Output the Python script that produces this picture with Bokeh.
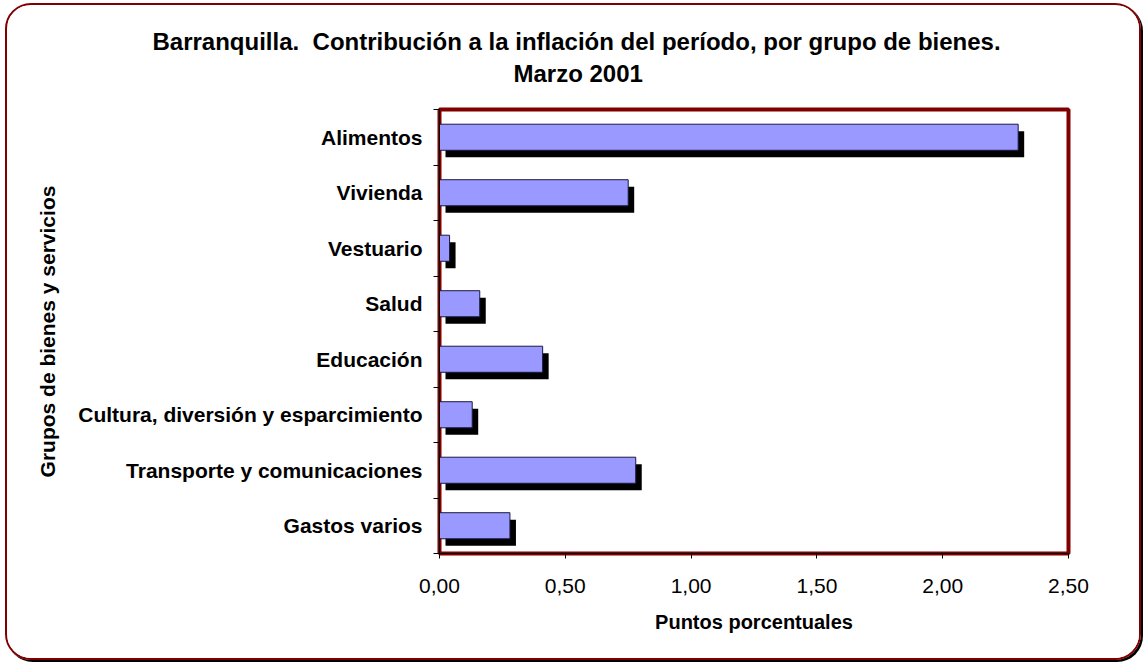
from bokeh.plotting import figure
from bokeh.models import Range1d, FixedTicker, Title
from bokeh.embed import file_html
from bokeh.resources import INLINE

categories = [
    "Alimentos",
    "Vivienda",
    "Vestuario",
    "Salud",
    "Educación",
    "Cultura, diversión y esparcimiento",
    "Transporte y comunicaciones",
    "Gastos varios",
]
values = [2.30, 0.75, 0.04, 0.16, 0.41, 0.13, 0.78, 0.28]
x_ticks = [0.0, 0.5, 1.0, 1.5, 2.0, 2.5]
x_tick_labels = ["0,00", "0,50", "1,00", "1,50", "2,00", "2,50"]

FONT = "Liberation Sans"
n = len(categories)
ypos = [n - i - 0.5 for i in range(n)]
boundaries = [float(b) for b in range(n + 1)]

p = figure(
    width=1136, height=657,
    x_range=Range1d(0, 2.5), y_range=Range1d(0, n),
    output_backend="svg", toolbar_location=None,
    min_border_left=432, min_border_right=75,
    min_border_top=104, min_border_bottom=109,
)
p.styles = {
    "margin": "3px 0px 0px 5px",
    "border": "2px solid #800000",
    "border-radius": "26px",
    "box-shadow": "2px 2px 0px #000000",
    "overflow": "hidden",
}
p.background_fill_color = "white"
p.border_fill_color = "white"
p.outline_line_color = "#800000"
p.outline_line_width = 4
p.xgrid.visible = False
p.ygrid.visible = False

bar_h = 0.47
dx = 6 / 251.6
dy = 7 / 55.6
p.hbar(y=[y - dy for y in ypos], left=dx, right=[v + dx for v in values],
       height=bar_h, fill_color="black", line_color=None)
p.hbar(y=ypos, left=0, right=values, height=bar_h,
       fill_color="#9999FF", line_color="#1a1a40", line_width=1)

xa = p.xaxis[0]
xa.ticker = FixedTicker(ticks=x_ticks, minor_ticks=[])
xa.major_label_overrides = dict(zip(x_ticks, x_tick_labels))
xa.major_tick_in = 0
xa.major_tick_out = 5
xa.minor_tick_out = 0
xa.axis_line_color = "black"
xa.major_label_text_font = FONT
xa.major_label_text_font_size = "21px"
xa.major_label_text_color = "black"
xa.major_label_standoff = 20
xa.axis_label = "Puntos porcentuales"
xa.axis_label_text_font = FONT
xa.axis_label_text_font_size = "20px"
xa.axis_label_text_font_style = "bold"
xa.axis_label_text_color = "black"
xa.axis_label_standoff = 15

ya = p.yaxis[0]
ya.ticker = FixedTicker(ticks=ypos, minor_ticks=boundaries)
ya.major_label_overrides = dict(zip(ypos, categories))
ya.major_tick_in = 0
ya.major_tick_out = 0
ya.minor_tick_in = 0
ya.minor_tick_out = 6
ya.minor_tick_line_color = "black"
ya.axis_line_color = "black"
ya.major_label_text_font = FONT
ya.major_label_text_font_size = "21px"
ya.major_label_text_font_style = "bold"
ya.major_label_text_color = "black"
ya.major_label_standoff = 11
ya.axis_label = "Grupos de bienes y servicios"
ya.axis_label_text_font = FONT
ya.axis_label_text_font_size = "21px"
ya.axis_label_text_font_style = "bold"
ya.axis_label_text_color = "black"
ya.axis_label_standoff = 16

t2 = Title(text="Marzo 2001", align="left", offset=74, standoff=46,
           text_font=FONT, text_font_size="24px", text_font_style="bold",
           text_color="black")
t1 = Title(text="Barranquilla.\u00a0 Contribución a la inflación del período, por grupo de bienes.",
           align="left", offset=-287, standoff=-40,
           text_font=FONT, text_font_size="24px", text_font_style="bold",
           text_color="black")
p.add_layout(t2, "above")
p.add_layout(t1, "above")

open("out.html", "w").write(file_html(p, INLINE))
